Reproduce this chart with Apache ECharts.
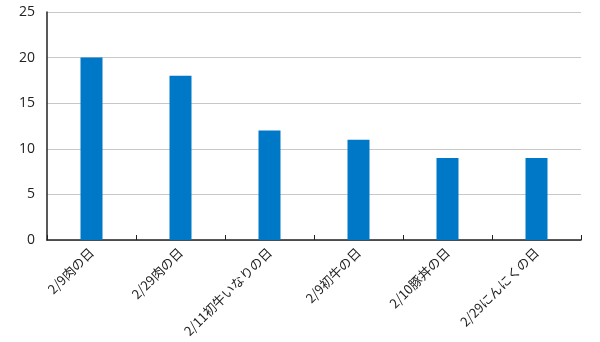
<!DOCTYPE html>
<html><head><meta charset="utf-8">
<script src="https://cdn.jsdelivr.net/npm/echarts@6/dist/echarts.min.js"></script>
<style>html,body{margin:0;padding:0;background:#fff}#c{width:600px;height:342px}</style>
</head><body><div id="c"></div>
<script>
const categories = ["2/9肉の日","2/29肉の日","2/11初牛いなりの日","2/9初牛の日","2/10豚丼の日","2/29にんにくの日"];
const values = [20,18,12,11,9,9];
const yTicks = [0,5,10,15,20,25];
const chart = echarts.init(document.getElementById('c'), null, {renderer:'canvas'});
chart.setOption({
  animation:false,
  grid:{left:47,right:19,top:12,bottom:102,outerBoundsMode:'none',containLabel:false},
  xAxis:{type:'category',data:categories,boundaryGap:true,
    axisLine:{lineStyle:{color:'#222',width:1.5}},
    axisTick:{show:true,inside:true,length:5,alignWithLabel:false,lineStyle:{color:'#222'}},
    axisLabel:{rotate:45,fontSize:13,color:'#222',margin:10,fontFamily:'Noto Sans CJK JP'}},
  yAxis:{type:'value',min:0,max:25,interval:5,
    axisLine:{show:true,lineStyle:{color:'#222',width:1.5}},
    axisTick:{show:false},
    splitLine:{lineStyle:{color:'#c8c8c8'}},
    axisLabel:{fontSize:14,color:'#222',margin:12,fontFamily:'Open Sans'}},
  series:[{type:'bar',data:values,barWidth:22,itemStyle:{color:'#0078C8'}}]
});
</script></body></html>
